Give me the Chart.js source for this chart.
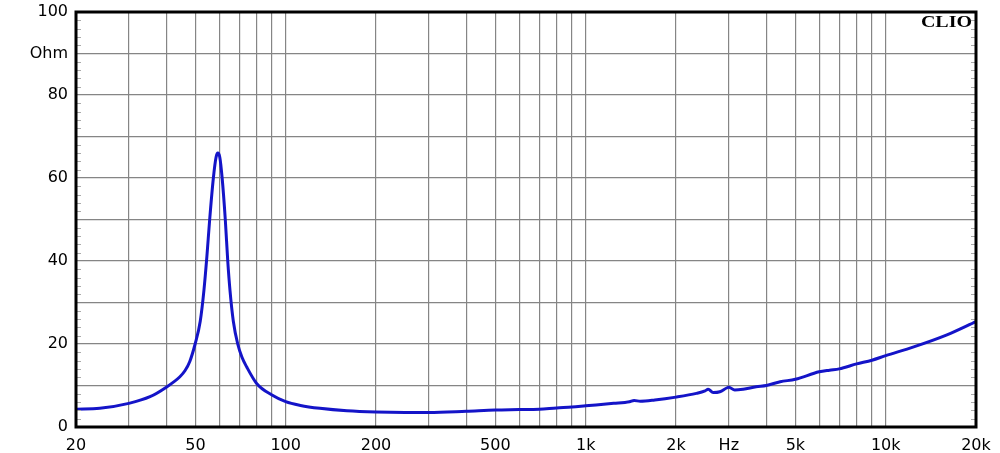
<!DOCTYPE html>
<html>
<head>
<meta charset="utf-8">
<script src="https://cdn.jsdelivr.net/npm/chart.js@4/dist/chart.umd.min.js"></script>
<style>
    html, body { margin: 0; padding: 0; background: #fff; }
    #wrap { width: 1000px; height: 453px; }
</style>
</head>
<body>
<div id="wrap"><canvas id="chart" width="1000" height="453"></canvas></div>
<script>
// impedance curve, Hz / Ohm
const freqs = [20, 24, 30, 35.3, 40, 44.4, 46.2, 47.9, 49.9, 51.9, 53.4, 54.6, 55.8, 57.4, 58.6, 59.4, 60.3, 61.4, 62.9, 64.1, 65.2, 66.9, 69.2, 71.5, 74.1, 80, 90, 100, 112, 130, 160, 200, 250, 300, 400, 500, 600, 700, 800, 900, 1000, 1240, 1400, 1450, 1520, 1700, 2000, 2340, 2500, 2560, 2660, 2800, 2950, 3000, 3140, 3350, 3700, 4000, 4450, 5000, 6000, 6500, 7000, 8000, 9000, 10000, 12400, 16000, 20000];
const ohms = [4.3, 4.5, 5.7, 7.3, 9.6, 12.1, 13.6, 15.8, 20, 25.5, 33, 41, 50, 60, 65, 66, 65, 60, 50, 40, 33, 25.5, 20, 16.8, 14.5, 10.5, 7.7, 6.1, 5.2, 4.5, 3.9, 3.6, 3.5, 3.5, 3.8, 4.1, 4.2, 4.3, 4.6, 4.8, 5.1, 5.7, 6.1, 6.4, 6.2, 6.5, 7.2, 8.1, 8.7, 9.1, 8.3, 8.5, 9.4, 9.6, 8.9, 9.1, 9.7, 10.0, 10.9, 11.5, 13.3, 13.7, 14.0, 15.2, 16.1, 17.2, 19.3, 22.2, 25.4];

const xGrid = [20, 30, 40, 50, 60, 70, 80, 90, 100, 200, 300, 400, 500, 600, 700, 800, 900, 1000, 2000, 3000, 4000, 5000, 6000, 7000, 8000, 9000, 10000, 20000];
const xLabels = { 20: "20", 50: "50", 100: "100", 200: "200", 500: "500", 1000: "1k", 2000: "2k", 3000: "Hz", 5000: "5k", 10000: "10k", 20000: "20k" };
const yLabels = { 0: "0", 20: "20", 40: "40", 60: "60", 80: "80", 90: "Ohm", 100: "100" };
const yMinor = [2, 4, 6, 8, 12, 14, 16, 18, 22, 24, 26, 28, 32, 34, 36, 38, 42, 44, 46, 48, 52, 54, 56, 58, 62, 64, 66, 68, 72, 74, 76, 78, 82, 84, 86, 88, 92, 94, 96, 98];

const tickFont = { family: "'DejaVu Sans', sans-serif", size: 16 };

const frame = {
    id: "frame",
    afterDraw(chart) {
        const { ctx, chartArea: a, scales } = chart;
        ctx.save();
        // small inside ticks on both sides
        ctx.strokeStyle = "#aaa";
        ctx.lineWidth = 1;
        yMinor.forEach((v) => {
            const y = Math.round(scales.y.getPixelForValue(v)) + 0.5;
            ctx.beginPath();
            ctx.moveTo(a.left, y); ctx.lineTo(a.left + 5, y);
            ctx.moveTo(a.right - 5, y); ctx.lineTo(a.right, y);
            ctx.stroke();
        });
        ctx.strokeStyle = "#000";
        ctx.lineWidth = 3;
        ctx.strokeRect(a.left, a.top, a.right - a.left, a.bottom - a.top);
        ctx.fillStyle = "#000";
        ctx.font = "bold 16px 'Liberation Serif', 'DejaVu Serif', serif";
        ctx.textAlign = "right";
        ctx.textBaseline = "top";
        ctx.translate(a.right - 4, a.top + 3);
        ctx.scale(1.25, 1);
        ctx.fillText("CLIO", 0, 0);
        ctx.restore();
    }
};

new Chart(document.getElementById("chart"), {
    type: "scatter",
    data: {
        datasets: [{
            data: freqs.map((f, i) => ({ x: f, y: ohms[i] })),
            showLine: true,
            borderColor: "#1414c8",
            borderWidth: 3,
            pointRadius: 0,
            cubicInterpolationMode: "monotone"
        }]
    },
    options: {
        responsive: false,
        animation: false,
        layout: { padding: { left: 0, right: 24, top: 12, bottom: 0 } },
        plugins: { legend: { display: false }, tooltip: { enabled: false } },
        scales: {
            x: {
                type: "logarithmic",
                min: 20,
                max: 20000,
                afterBuildTicks: (scale) => { scale.ticks = xGrid.map((v) => ({ value: v })); },
                afterFit: (scale) => { scale.height = 26; },
                grid: { color: "#858585", lineWidth: 1.2, drawTicks: false },
                border: { display: false },
                ticks: {
                    autoSkip: false,
                    maxRotation: 0,
                    padding: 9,
                    color: "#000",
                    font: tickFont,
                    callback: (value) => xLabels[value] || ""
                }
            },
            y: {
                min: 0,
                max: 100,
                afterBuildTicks: (scale) => {
                    scale.ticks = [0, 10, 20, 30, 40, 50, 60, 70, 80, 90, 100].map((v) => ({ value: v }));
                },
                afterFit: (scale) => {
                    scale.width = 76;
                    scale.paddingTop = 0;
                    scale.paddingBottom = 0;
                },
                grid: { color: "#858585", lineWidth: 1.2, drawTicks: false },
                border: { display: false },
                ticks: {
                    autoSkip: false,
                    padding: 8,
                    color: "#000",
                    font: tickFont,
                    callback: (value) => yLabels[value] || ""
                }
            }
        }
    },
    plugins: [frame]
});
</script>
</body>
</html>
